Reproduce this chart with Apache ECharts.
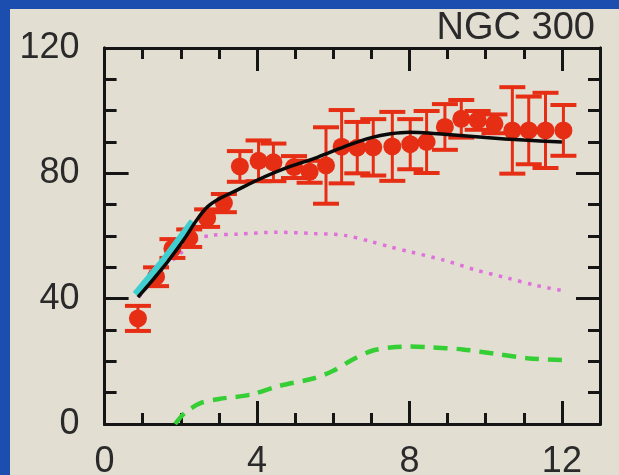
<!DOCTYPE html>
<html>
<head>
<meta charset="utf-8">
<script src="https://cdn.jsdelivr.net/npm/echarts@6/dist/echarts.min.js"></script>
<style>
  html, body { margin: 0; padding: 0; }
  body { width: 619px; height: 475px; background: #1b4eaf; position: relative; overflow: hidden; }
  #chart { position: absolute; left: 10px; top: 9px; width: 609px; height: 466px; background: #e3ded2; }
</style>
</head>
<body>
<div id="chart"></div>
<script>
// Rotation curve of NGC 300: radius (kpc) vs. circular velocity (km/s)
const radius = [0.875, 1.35, 1.78, 2.22, 2.69, 3.13, 3.55, 4.04, 4.43, 4.97, 5.38, 5.81, 6.22,
                6.63, 7.05, 7.55, 8.02, 8.45, 8.93, 9.36, 9.79, 10.23, 10.7, 11.13, 11.57, 12.04];
const velocity = [33.7, 47.0, 56.0, 59.3, 65.7, 70.5, 82.2, 84.0, 83.5, 82.0, 80.5, 82.5, 88.5,
                  88.2, 88.3, 88.6, 89.3, 90.0, 94.8, 97.4, 96.9, 95.8, 93.7, 93.7, 93.7, 93.7];
const velocityErr = [4.0, 3.0, 3.0, 2.8, 2.8, 2.9, 4.9, 6.5, 6.0, 3.5, 3.5, 12.2, 11.7,
                     8.2, 9.0, 11.0, 8.0, 9.9, 7.3, 6.0, 3.0, 3.0, 13.8, 10.8, 12.0, 8.1];

// Model curves, [radius, velocity]
const totalModel = [[0.875, 40.5], [1.3, 46.5], [1.7, 52.5], [2.1, 59.2], [2.4, 64.8], [2.7, 69.3],
                    [3.0, 71.8], [3.5, 74.8], [4.0, 77.8], [4.7, 81.4], [5.6, 85.2], [6.4, 89.0],
                    [7.0, 91.4], [7.5, 92.6], [8.0, 93.1], [8.5, 92.9], [9.0, 92.4], [10.0, 91.4],
                    [11.0, 90.6], [12.0, 90.0]];
const innerModel = [[0.8, 41.5], [1.5, 51.8], [2.3, 64.8]];
const starsCurve = [[0.9, 40.5], [1.5, 49.0], [2.0, 54.5], [2.4, 58.8], [2.8, 60.2], [3.5, 60.6],
                    [4.5, 61.2], [5.5, 60.8], [6.3, 60.2], [7.0, 58.2], [7.5, 56.5], [8.0, 55.0],
                    [8.9, 52.3], [9.75, 49.1], [10.6, 46.5], [11.3, 44.3], [12.0, 42.6]];
const gasCurve = [[1.85, 0], [2.1, 3.5], [2.5, 6.6], [3.0, 8.0], [3.8, 9.3], [4.6, 12.2], [5.5, 14.6],
                  [6.0, 17.0], [6.5, 20.5], [7.0, 23.3], [7.5, 24.4], [8.0, 24.7], [8.5, 24.5],
                  [9.4, 23.8], [10.3, 22.3], [11.1, 21.0], [12.0, 20.4]];

const xLabels = [0, 4, 8, 12];
const yLabels = [0, 40, 80, 120];
const title = 'NGC 300';

const ink = '#151515';
const red = '#e62e14';
const font = 'Liberation Sans, Arial, Helvetica, sans-serif';

const errorData = radius.map((r, i) => [r, velocity[i] - velocityErr[i], velocity[i] + velocityErr[i]]);
const pointData = radius.map((r, i) => [r, velocity[i]]);

function axis(kind, position, interval, tickLen, withLabels) {
  const isX = kind === 'x';
  const labels = isX ? xLabels : yLabels;
  return {
    type: 'value',
    position: position,
    min: 0,
    max: isX ? 13 : 120,
    interval: interval,
    axisLine: { show: true, onZero: false, lineStyle: { color: ink, width: 3 } },
    axisTick: { show: true, inside: true, length: tickLen, lineStyle: { color: ink, width: 3 } },
    axisLabel: {
      show: withLabels,
      margin: isX ? 20 : 25,
      color: '#2a2a2a',
      fontSize: 36,
      fontFamily: font,
      formatter: v => (labels.indexOf(v) >= 0 ? String(v) : '')
    },
    splitLine: { show: false }
  };
}

const chart = echarts.init(document.getElementById('chart'), null, { renderer: 'canvas' });
chart.setOption({
  animation: false,
  backgroundColor: 'transparent',
  grid: { left: 94.6, right: 19, top: 39, bottom: 51, containLabel: false, outerBoundsMode: 'none' },
  xAxis: [
    axis('x', 'bottom', 4, 23, true),
    axis('x', 'bottom', 1, 11, false),
    axis('x', 'top', 4, 23, false),
    axis('x', 'top', 1, 11, false)
  ],
  yAxis: [
    axis('y', 'left', 40, 24, true),
    axis('y', 'left', 10, 12, false),
    axis('y', 'right', 40, 24, false),
    axis('y', 'right', 10, 12, false)
  ],
  graphic: [{
    type: 'text',
    right: 24,
    top: 1,
    style: { text: title, fontSize: 38, fontFamily: font, fill: '#2a2a2a' }
  }],
  series: [
    {
      name: 'gas', type: 'line', data: gasCurve, smooth: 0.3, symbol: 'none',
      lineStyle: { color: '#35cf35', width: 4.5, type: [14, 9] }, z: 2
    },
    {
      name: 'stars', type: 'line', data: starsCurve, smooth: 0.3, symbol: 'none',
      lineStyle: { color: '#e070dc', width: 3.5, type: [3.5, 6.5] }, z: 2
    },
    {
      name: 'errors', type: 'custom', data: errorData, z: 3,
      renderItem: function (params, api) {
        const x = api.value(0);
        const lo = api.coord([x, api.value(1)]);
        const hi = api.coord([x, api.value(2)]);
        const hw = 13;
        const style = { stroke: red, lineWidth: 3 };
        const cap = { stroke: red, lineWidth: 4 };
        return {
          type: 'group',
          children: [
            { type: 'line', shape: { x1: lo[0], y1: lo[1], x2: hi[0], y2: hi[1] }, style: style },
            { type: 'line', shape: { x1: lo[0] - hw, y1: lo[1], x2: lo[0] + hw, y2: lo[1] }, style: cap },
            { type: 'line', shape: { x1: hi[0] - hw, y1: hi[1], x2: hi[0] + hw, y2: hi[1] }, style: cap }
          ]
        };
      }
    },
    {
      name: 'observed', type: 'scatter', data: pointData, symbol: 'circle', symbolSize: 18,
      itemStyle: { color: red, opacity: 1 }, z: 4
    },
    {
      name: 'inner', type: 'line', data: innerModel, smooth: 0.2, symbol: 'none',
      lineStyle: { color: '#40cfd0', width: 6 }, z: 5
    },
    {
      name: 'total', type: 'line', data: totalModel, smooth: 0.3, symbol: 'none',
      lineStyle: { color: '#0a0a0a', width: 3.5 }, z: 6
    }
  ]
});
</script>
</body>
</html>
